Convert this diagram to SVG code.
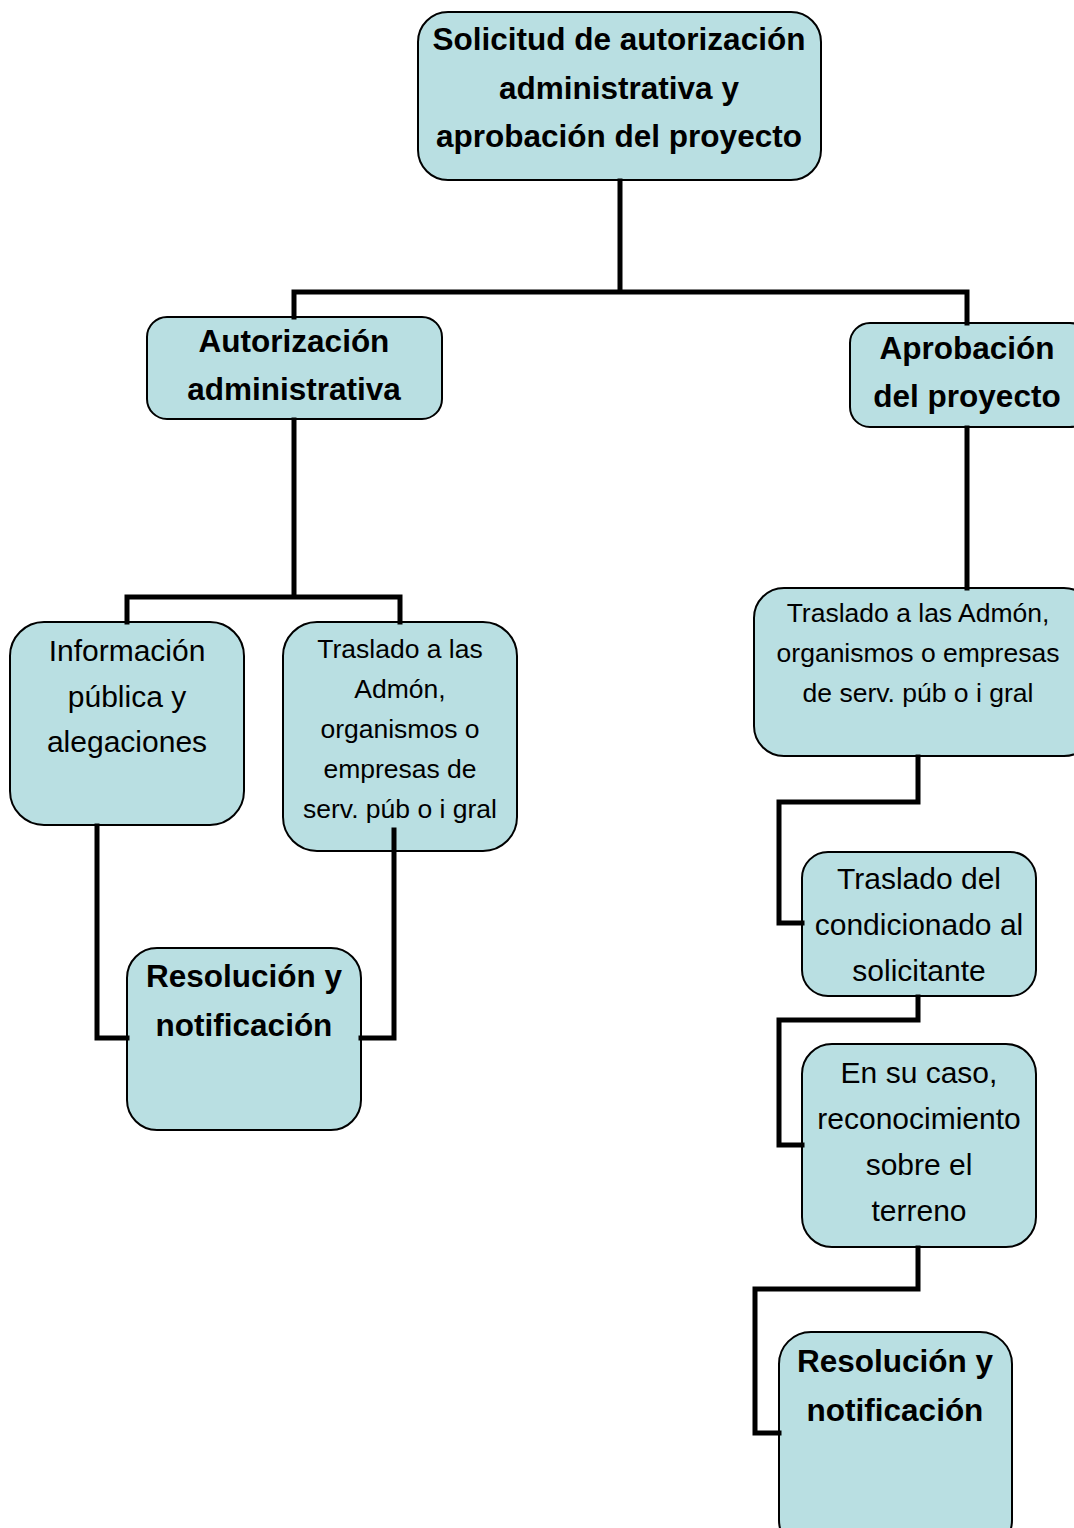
<svg xmlns="http://www.w3.org/2000/svg" width="1074" height="1528" viewBox="0 0 1074 1528">
<style>
.box{fill:#b9dfe2;stroke:#000;stroke-width:2}
.c{fill:none;stroke:#000;stroke-width:5;stroke-linecap:square}
.b{font-family:"Liberation Sans",Arial,sans-serif;font-weight:bold;fill:#000;text-anchor:middle;font-size:31.5px}
.r{font-family:"Liberation Sans",Arial,sans-serif;fill:#000;text-anchor:middle;font-size:30px}
.s{font-family:"Liberation Sans",Arial,sans-serif;fill:#000;text-anchor:middle;font-size:26.5px}
</style>
<rect width="1074" height="1528" fill="#fff"/>
<g id="n1"><rect class="box" x="418" y="12" width="403" height="168" rx="30"/>
<text class="b"><tspan x="619" y="50">Solicitud de autorización</tspan><tspan x="619" y="99">administrativa y</tspan><tspan x="619" y="147">aprobación del proyecto</tspan></text></g>
<g id="n2"><rect class="box" x="147" y="317" width="295" height="102" rx="20"/>
<text class="b"><tspan x="294" y="352">Autorización</tspan><tspan x="294" y="400">administrativa</tspan></text></g>
<g id="n3"><rect class="box" x="850" y="323" width="240" height="104" rx="20"/>
<text class="b"><tspan x="967" y="359">Aprobación</tspan><tspan x="967" y="407">del proyecto</tspan></text></g>
<g id="n4"><rect class="box" x="10" y="622" width="234" height="203" rx="34"/>
<text class="r"><tspan x="127" y="661">Información</tspan><tspan x="127" y="707">pública y</tspan><tspan x="127" y="752">alegaciones</tspan></text></g>
<g id="n5"><rect class="box" x="283" y="622" width="234" height="229" rx="34"/>
<text class="s"><tspan x="400" y="658">Traslado a las</tspan><tspan x="400" y="698">Admón,</tspan><tspan x="400" y="738">organismos o</tspan><tspan x="400" y="778">empresas de</tspan><tspan x="400" y="818">serv. púb o i gral</tspan></text></g>
<g id="n6"><rect class="box" x="127" y="948" width="234" height="182" rx="30"/>
<text class="b"><tspan x="244" y="987">Resolución y</tspan><tspan x="244" y="1036">notificación</tspan></text></g>
<g id="n7"><rect class="box" x="754" y="588" width="340" height="168" rx="30"/>
<text class="s"><tspan x="918" y="622">Traslado a las Admón,</tspan><tspan x="918" y="662">organismos o empresas</tspan><tspan x="918" y="702">de serv. púb o i gral</tspan></text></g>
<g id="n8"><rect class="box" x="802" y="852" width="234" height="144" rx="26"/>
<text class="r"><tspan x="919" y="889">Traslado del</tspan><tspan x="919" y="935">condicionado al</tspan><tspan x="919" y="981">solicitante</tspan></text></g>
<g id="n9"><rect class="box" x="802" y="1044" width="234" height="203" rx="30"/>
<text class="r"><tspan x="919" y="1083">En su caso,</tspan><tspan x="919" y="1129">reconocimiento</tspan><tspan x="919" y="1175">sobre el</tspan><tspan x="919" y="1221">terreno</tspan></text></g>
<g id="n10"><rect class="box" x="779" y="1332" width="233" height="220" rx="32"/>
<text class="b"><tspan x="895" y="1372">Resolución y</tspan><tspan x="895" y="1421">notificación</tspan></text></g>
<g id="connectors">
<path class="c" d="M620 181 V292 M294 317 V292 H967 V323"/>
<path class="c" d="M294 420 V597 M127 622 V597 H400 V622"/>
<path class="c" d="M97 826 V1038 H127"/>
<path class="c" d="M394 830 V1038 H361"/>
<path class="c" d="M967 428 V588"/>
<path class="c" d="M918 757 V802 H779 V923 H802"/>
<path class="c" d="M918 997 V1020 H779 V1145 H802"/>
<path class="c" d="M918 1248 V1289 H755 V1433 H779"/>
</g>
</svg>
